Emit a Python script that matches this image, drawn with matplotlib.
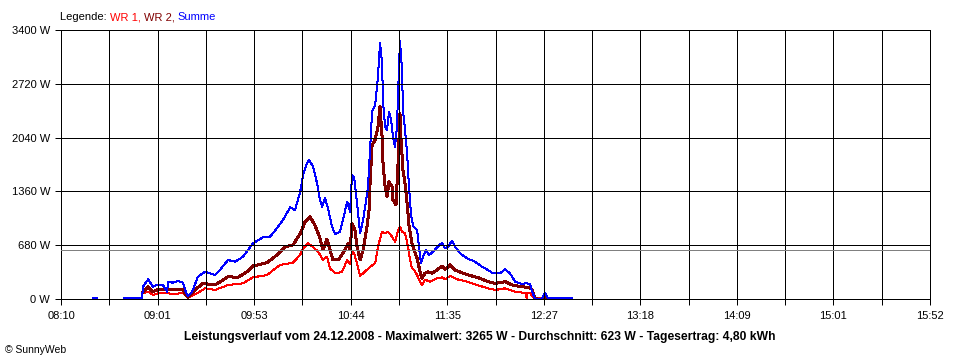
import matplotlib
matplotlib.use('Agg')
import matplotlib.pyplot as plt
import numpy as np

plt.rcParams['font.family'] = ['Liberation Sans', 'DejaVu Sans']

nan = float('nan')

# ---- data (time in minutes after midnight, power in W) ----
x_tick_labels = ['08:10', '09:01', '09:53', '10:44', '11:35', '12:27',
                 '13:18', '14:09', '15:01', '15:52']
x_start, x_end = 490, 952
y_ticks = [0, 680, 1360, 2040, 2720, 3400]
y_tick_labels = ['0 W', '680 W', '1360 W', '2040 W', '2720 W', '3400 W']
avg_w = 623

t_sum = [507.0, 509.1, 509.2, 523.5, 533.1, 533.6, 536.3, 538.9, 541.0, 544.2, 546.4, 546.9,
         549.5, 552.2, 554.9, 556.5, 557.5, 559.7, 562.8, 566.6, 571.9, 574.5, 578.8, 582.5,
         586.8, 592.1, 597.4, 601.1, 604.8, 608.0, 611.8, 614.4, 617.1, 618.7, 620.8, 621.9,
         624.0, 626.1, 627.7, 628.8, 630.4, 632.0, 634.1, 635.7, 638.3, 639.9, 642.1, 643.7,
         644.7, 645.8, 647.4, 649.0, 650.6, 651.6, 653.2, 654.3, 655.4, 657.0, 658.5, 659.6,
         660.7, 661.2, 662.3, 663.3, 664.4, 665.5, 666.5, 667.6, 668.6, 669.2, 670.2, 671.3,
         671.8, 672.9, 674.0, 675.0, 676.1, 677.2, 679.3, 680.3, 681.4, 682.5, 684.1, 685.7,
         687.8, 690.4, 692.6, 694.2, 695.8, 697.9, 699.5, 702.1, 705.9, 710.1, 713.8, 717.0,
         719.2, 723.4, 726.1, 728.7, 731.4, 735.1, 737.2, 739.4, 740.4, 742.0, 743.1, 745.7,
         747.3, 748.9, 751.0, 761.7, 761.8]
p_sum = [10, 10, nan, 8, 10, 155, 249, 155, 177, 177, 92, 219,
         206, 228, 206, 76, 35, 92, 282, 345, 303, 367, 493, 471,
         535, 704, 780, 787, 894, 998, 1159, 1125, 1346, 1567, 1715, 1757,
         1672, 1466, 1251, 1167, 1273, 1138, 914, 822, 851, 998, 1230, 1103,
         1567, 1546, 1210, 830, 998, 1150, 1419, 1883, 2367, 2452, 2810, 3240,
         2983, 2494, 2178, 2136, 2367, 2262, 2051, 1925, 2178, 2600, 3265, 2894,
         2389, 2136, 1842, 1419, 1062, 923, 872, 661, 451, 535, 619, 556,
         598, 661, 712, 641, 661, 737, 661, 578, 514, 471, 408, 367,
         332, 325, 375, 325, 219, 190, 198, 190, 92, 9, 0, 0,
         80, 13, 10, 10, nan]

t_wr2 = [533.6, 536.3, 538.9, 541.0, 545.3, 546.9, 549.5, 554.9, 556.5, 557.5, 561.2, 565.5,
         571.9, 578.8, 584.1, 588.9, 592.1, 599.5, 604.8, 609.1, 613.3, 617.1, 619.8, 622.4,
         625.0, 627.7, 629.3, 631.4, 633.0, 634.6, 637.3, 639.9, 642.6, 643.7, 644.7, 646.3,
         647.4, 649.0, 650.6, 652.7, 653.8, 654.3, 655.4, 657.0, 658.5, 659.6, 660.7, 661.2,
         662.3, 663.3, 664.4, 666.0, 666.5, 668.1, 669.2, 670.2, 670.8, 671.8, 672.9, 674.0,
         675.0, 676.6, 677.7, 679.3, 680.9, 681.9, 683.5, 685.1, 687.2, 689.9, 692.6, 694.2,
         696.8, 699.5, 703.7, 708.5, 712.8, 717.0, 720.8, 726.1, 729.8, 735.1, 738.3, 740.4,
         742.0, 743.1, 745.7, 747.3, 748.9]
p_wr2 = [92, 155, 92, 114, 114, 123, 114, 114, 51, 21, 114, 198,
         177, 282, 274, 345, 417, 459, 556, 661, 683, 822, 977, 1040,
         935, 767, 619, 758, 619, 493, 493, 578, 704, 619, 957, 872,
         661, 493, 619, 914, 1125, 1462, 1946, 2010, 2178, 2431, 2051, 1715,
         1419, 1293, 1483, 1419, 1251, 1188, 1715, 2347, 2010, 1630, 1462, 1210,
         935, 704, 619, 514, 345, 262, 325, 345, 325, 367, 417, 375,
         430, 367, 325, 291, 262, 219, 198, 219, 177, 155, 148, 123,
         9, 0, 0, 38, 0]

t_wr1 = [533.6, 536.3, 538.9, 541.6, 545.3, 546.9, 550.6, 554.9, 557.5, 562.3, 566.6, 571.9,
         578.8, 586.8, 592.1, 599.5, 606.4, 613.3, 617.1, 618.7, 621.4, 624.0, 626.7, 629.3,
         631.4, 633.0, 635.7, 639.4, 642.1, 643.7, 644.7, 645.8, 647.4, 649.0, 651.6, 654.3,
         657.0, 658.5, 660.7, 662.3, 663.9, 666.0, 667.6, 669.2, 670.2, 671.3, 672.9, 674.5,
         675.6, 676.6, 677.7, 679.3, 680.9, 681.9, 683.5, 686.2, 689.9, 692.6, 694.2, 696.8,
         700.6, 705.9, 711.2, 717.0, 720.8, 726.1, 731.4, 735.6, 737.2, 737.6, 737.9, 739.4,
         741.0, 742.0, 747.3, 748.9]
p_wr1 = [72, 92, 51, 72, 72, 72, 63, 80, 16, 72, 135, 114,
         177, 198, 274, 303, 430, 459, 556, 641, 704, 657, 598, 493,
         535, 388, 325, 341, 493, 442, 598, 578, 451, 291, 345, 408,
         451, 661, 851, 830, 851, 787, 724, 872, 914, 851, 830, 661,
         493, 388, 367, 303, 219, 177, 244, 219, 262, 274, 249, 291,
         249, 219, 177, 135, 114, 135, 92, 80, 76, 0, 76, 72,
         29, 0, 25, 0]

legend_parts = ['Legende: ', 'WR 1, ', 'WR 2, ', 'Summe']
legend_colors = ['black', '#ff0000', '#800000', '#0000ff']
title_text = ('Leistungsverlauf vom 24.12.2008 - Maximalwert: 3265 W - '
              'Durchschnitt: 623 W - Tagesertrag: 4,80 kWh')
credit_text = '\u00a9 SunnyWeb'

# ---- figure ----
W, H = 960, 360
fig = plt.figure(figsize=(W / 100, H / 100), dpi=100)
fig.patch.set_facecolor('white')
ax = fig.add_axes([61 / W, (H - 299) / H, 869 / W, 269 / H])

px = 0.72  # one pixel in points
ax.plot(t_wr1, p_wr1, color='#ff0000', lw=px, antialiased=False, zorder=2)
ax.plot(t_wr2, p_wr2, color='#800000', lw=2 * px, antialiased=False, zorder=2)
ax.plot(t_sum, p_sum, color='#0000ff', lw=px, antialiased=False, zorder=2)
ax.axhline(avg_w, color='#808080', lw=px, antialiased=False, zorder=3)

ax.set_xlim(x_start, x_end)
ax.set_ylim(0, 3400)
major = np.linspace(x_start, x_end, len(x_tick_labels))
minor = np.linspace(x_start, x_end, 2 * len(x_tick_labels) - 1)
ax.set_xticks(major)
ax.set_xticklabels(x_tick_labels)
ax.set_xticks(minor, minor=True)
ax.set_yticks(y_ticks)
ax.set_yticklabels(y_tick_labels)

ax.set_axisbelow(False)
ax.grid(which='both', axis='both', color='black', lw=px, antialiased=False)
ax.tick_params(axis='x', which='both', length=4.3, width=px, color='black',
               labelsize=8, pad=4.5)
ax.tick_params(axis='y', which='both', length=4.3, width=px, color='black',
               labelsize=8, pad=3.5)
for s in ax.spines.values():
    s.set_linewidth(px)
    s.set_color('black')

# legend as coloured text pieces, chained left to right
prev = fig.text(60 / W, 1 - 17 / H, legend_parts[0], fontsize=8,
                color=legend_colors[0], va='center', ha='left')
for txt, col in zip(legend_parts[1:], legend_colors[1:]):
    prev = ax.annotate(txt, xy=(1, 0.5), xycoords=prev, va='center', ha='left',
                       fontsize=8, color=col, annotation_clip=False)

fig.text(480 / W, 1 - 337 / H, title_text, fontsize=8.7, fontweight='bold',
         ha='center', va='center', color='black')
fig.text(5 / W, 1 - 350 / H, credit_text, fontsize=7.5, ha='left', va='center',
         color='black')

fig.savefig('out.png', dpi=100, facecolor='white')
